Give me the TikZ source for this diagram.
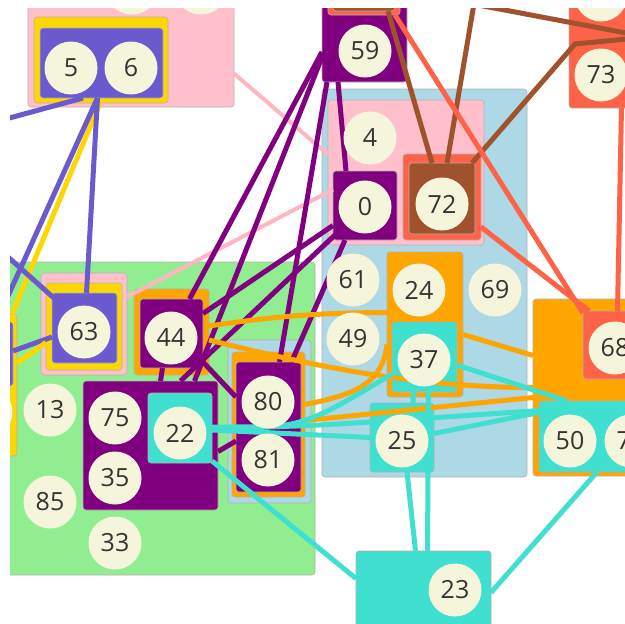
\documentclass[tikz,border=0pt]{standalone}
\usepackage{fontspec}
\setmainfont{Open Sans}
\usetikzlibrary{calc}
\definecolor{cpink}{HTML}{FFC0CB}
\definecolor{cpinkE}{HTML}{FFB6C1}
\definecolor{cgold}{HTML}{FFD700}
\definecolor{cslate}{HTML}{6A5ACD}
\definecolor{cpurple}{HTML}{800080}
\definecolor{clblue}{HTML}{ADD8E6}
\definecolor{ctomato}{HTML}{FF6347}
\definecolor{csienna}{HTML}{A0522D}
\definecolor{corange}{HTML}{FFA500}
\definecolor{cturq}{HTML}{40E0D0}
\definecolor{cgreen}{HTML}{90EE90}
\definecolor{cbeige}{HTML}{F5F5DC}
\definecolor{ctext}{HTML}{333333}
\newcommand\mybox[6]{%
  \pgfmathsetmacro\bw{#5-#3}\pgfmathsetmacro\bh{#6-#4}%
  \pgfmathsetmacro\bcx{(#3+#5)/2}\pgfmathsetmacro\bcy{(#4+#6)/2}%
  \node[box,fill=#2,minimum width=\bw pt,minimum height=\bh pt] (#1) at (\bcx,\bcy) {};}
\begin{document}
\begin{tikzpicture}[x=1pt,y=-1pt,
  box/.style={rectangle,rounded corners=3pt,draw=black!30,line width=0.6pt,inner sep=0pt,outer sep=0pt},
  ball/.style={circle,fill=cbeige,minimum size=53pt,inner sep=0pt,font=\fontsize{25}{25}\selectfont,text=ctext},
  e/.style={line width=5pt}]
\useasboundingbox (0,0) rectangle (625,624);
\fill[white] (0,0) rectangle (625,624);
\clip (10,8) rectangle (625,624);
% boxes
\mybox{pinkA}{cpink}{28}{-40}{234}{107}
\mybox{yelA}{cgold}{34}{17}{168}{103}
\mybox{slA}{cslate}{40}{28}{163}{98}
\mybox{p59}{cpurple}{322}{-40}{407}{82}
\mybox{t59}{ctomato}{328}{-40}{400}{15}
\mybox{s59}{csienna}{333}{-40}{395}{11}
\mybox{t73}{ctomato}{569}{-40}{690}{108}
\mybox{lbR}{clblue}{322}{89}{527}{477}
\mybox{pkR}{cpink}{328}{100}{484}{245}
\mybox{p0}{cpurple}{333}{171}{397}{240}
\mybox{t72}{ctomato}{403}{154}{481}{240}
\mybox{s72}{csienna}{409}{163}{475}{234}
\mybox{o24}{corange}{387}{252}{463}{397}
\mybox{c37}{cturq}{392}{322}{457}{392}
\mybox{c25}{cturq}{370}{403}{434}{472}
\mybox{grn}{cgreen}{-40}{262}{315}{575}
\mybox{pk63}{cpink}{41}{273}{127}{375}
\mybox{y63}{cgold}{46}{283}{122}{370}
\mybox{sl63}{cslate}{52}{293}{117}{363}
\mybox{o44}{corange}{134}{289}{209}{375}
\mybox{p44}{cpurple}{140}{299}{203}{368}
\mybox{p75}{cpurple}{83}{381}{218}{510}
\mybox{c22}{cturq}{148}{393}{212}{463}
\mybox{lb80}{clblue}{228}{340}{311}{503}
\mybox{o80}{corange}{232}{352}{305}{497}
\mybox{p80}{cpurple}{236}{362}{301}{492}
\mybox{yL}{cgold}{-60}{314}{17}{456}
\mybox{slL}{cslate}{-55}{322}{13}{386}
\mybox{oR}{corange}{533}{299}{700}{476}
\mybox{t68}{ctomato}{583}{311}{700}{379}
\mybox{c50}{cturq}{539}{401}{700}{472}
\mybox{c23}{cturq}{356}{551}{491}{700}
% free ends
\coordinate (fL1) at (-20,126);
\coordinate (fL2) at (-20,358);
\coordinate (fL3) at (-20,232);
\coordinate (fT1) at (478,-20);
\coordinate (fT2) at (420,-6);
\coordinate (fR1) at (700,47);
\coordinate (fR2) at (700,32);
\coordinate (bend1) at (575,44);
% slate / gold edges
\draw[e,cslate] ($(slA.south west)+(43,0)$) -- (fL1);
\draw[e,cgold] ($(yelA.south)+(-1,0)$) -- ($(yL.north east)+(-5,0)$);
\draw[e,cslate] ($(slA.south)+(-4,0)$) -- (fL2);
\draw[e,cslate] ($(slA.south)+(-4,0)$) -- ($(sl63.north)+(2,0)$);
\draw[e,cslate] (fL3) -- ($(sl63.north west)+(3,6)$);
\draw[e,cslate] ($(slL.east)+(0,-3)$) -- ($(sl63.west)+(0,9)$);
\draw[e,cgold] ($(yL.east)+(0,-22)$) -- ($(y63.west)+(0,16)$);
% pink edges
\draw[e,cpinkE,line width=4pt] ($(pinkA.east)+(0,40)$) -- ($(pkR.west)+(0,-18)$);
\draw[e,cpinkE,line width=4pt] ($(pk63.north east)+(0,24)$) -- ($(p0.west)+(0,-16)$);
% purple edges
\draw[e,cpurple] ($(p59.west)+(0,31)$) -- ($(p44.north)+(18,0)$);
\draw[e,cpurple] ($(p59.west)+(0,36)$) -- ($(p75.north)+(44,0)$);
\draw[e,cpurple] ($(p59.south west)+(5,0)$) -- ($(p80.north)+(11,0)$);
\draw[e,cpurple] ($(p59.south west)+(16,0)$) -- ($(p0.north)+(-19,0)$);
\draw[e,cpurple] ($(p0.west)+(0,20)$) -- ($(p44.east)+(0,-20)$);
\draw[e,cpurple] ($(p0.south west)+(3,-6)$) -- ($(p75.north)+(30,0)$);
\draw[e,cpurple] ($(p0.south west)+(12,0)$) -- ($(p80.north)+(23,0)$);
\draw[e,cpurple] ($(p44.south)+(-9,0)$) -- ($(p75.north)+(10,0)$);
\draw[e,cpurple] ($(p44.south east)+(0,-6)$) -- ($(p80.west)+(0,-30)$);
\draw[e,cpurple] ($(p75.east)+(0,6)$) -- ($(p80.west)+(0,14)$);
% sienna edges
\draw[e,csienna] ($(s59.south)+(24,0)$) -- ($(s72.north)+(-10,0)$);
\draw[e,csienna] (fT1) -- ($(s72.north)+(5,0)$);
\draw[e,csienna] (fT2) -- (fR1);
\draw[e,csienna] (fR2) -- (bend1) -- ($(s72.north east)+(-3,0)$);
% tomato edges
\draw[e,ctomato] ($(t59.south east)+(-5,0)$) -- ($(t68.north west)+(0,2)$);
\draw[e,ctomato] ($(t72.east)+(0,30)$) -- ($(t68.north west)+(6,0)$);
\draw[e,ctomato] ($(t73.south)+(-8,0)$) -- ($(t68.north)+(-24,0)$);
% orange edges
\draw[e,corange] ($(o44.east)+(0,-6)$) to[bend left=4] ($(o24.west)+(0,-12)$);
\draw[e,corange] ($(o44.east)+(0,8)$) .. controls +(100,25) and +(-120,0) .. (oR.west);
\draw[e,corange] ($(o80.east)+(0,-20)$) .. controls +(50,-10) and +(-5,40) .. ($(o24.west)+(0,20)$);
\draw[e,corange] ($(o80.east)+(0,-4)$) -- ($(oR.west)+(0,10)$);
\draw[e,corange] ($(o24.east)+(0,10)$) -- ($(oR.west)+(0,-32)$);
% turquoise edges
\draw[e,cturq] ($(c22.east)+(0,2)$) -- (c25.west);
\draw[e,cturq] (c22.east) .. controls +(90,0) .. ($(c37.south west)+(0,-18)$);
\draw[e,cturq] ($(c22.east)+(0,-1)$) .. controls +(90,0) .. ($(c50.west)+(0,-26)$);
\draw[e,cturq] ($(c25.east)+(0,-4)$) -- ($(c50.west)+(0,-24)$);
\draw[e,cturq] ($(c37.east)+(0,8)$) -- ($(c50.north west)+(28,0)$);
\draw[e,cturq] ($(c37.south)+(-11,0)$) -- ($(c25.north)+(11,0)$);
\draw[e,cturq] ($(c37.south)+(4,0)$) -- ($(c23.north)+(4,0)$);
\draw[e,cturq] ($(c25.south)+(5,0)$) -- ($(c23.north)+(-8,0)$);
\draw[e,cturq] ($(c22.south east)+(0,-2)$) -- ($(c23.west)+(0,-47)$);
\draw[e,cturq] ($(c50.south west)+(58,0)$) -- ($(c23.east)+(0,-33)$);
% circles
\node[ball] (n5) at (71,68) {5};
\node[ball] (n6) at (131,68) {6};
\node[ball] (nA1) at (132,-12) {};
\node[ball] (nA2) at (201,-12) {};
\node[ball] (n59) at (365,51) {59};
\node[ball] (n73) at (601,75) {73};
\node[ball] (nB) at (601,-5) {};
\node[ball] (n4) at (370,138) {4};
\node[ball] (n0) at (365,207) {0};
\node[ball] (n72) at (442,204) {72};
\node[ball] (n61) at (353,280) {61};
\node[ball] (n49) at (353,339) {49};
\node[ball] (n69) at (495,290) {69};
\node[ball] (n24) at (419,290) {24};
\node[ball] (n37) at (424,360) {37};
\node[ball] (n25) at (402,441) {25};
\node[ball] (n63) at (84,332) {63};
\node[ball] (n44) at (171,338) {44};
\node[ball] (n75) at (115,418) {75};
\node[ball] (n35) at (115,478) {35};
\node[ball] (n22) at (180,433) {22};
\node[ball] (n80) at (268,402) {80};
\node[ball] (n81) at (268,460) {81};
\node[ball] (n13) at (50,410) {13};
\node[ball] (n85) at (50,502) {85};
\node[ball] (n33) at (115,543) {33};
\node[ball] (nL) at (-14,412) {};
\node[ball] (n68) at (615,348) {68};
\node[ball] (n50) at (570,441) {50};
\node[ball] (n7) at (631,441) {7\phantom{0}};
\node[ball] (n23) at (455,590) {23};
\end{tikzpicture}
\end{document}
